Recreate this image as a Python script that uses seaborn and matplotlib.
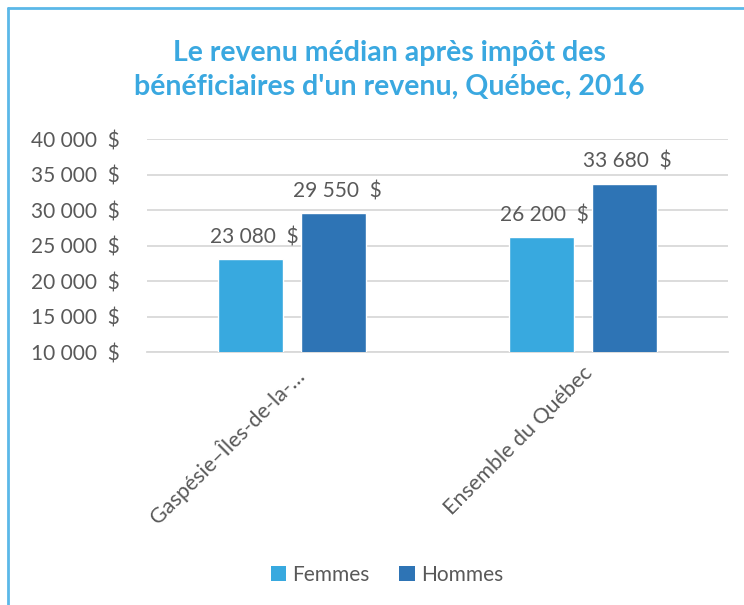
#!/usr/bin/env python3
"""Median after-tax income bar chart, Québec 2016."""

import matplotlib
matplotlib.use("Agg")
import matplotlib.pyplot as plt
from matplotlib.lines import Line2D
from matplotlib.patches import Patch
from matplotlib.ticker import FuncFormatter, MultipleLocator
import pandas as pd
import seaborn as sns

regions = ["Gaspésie–Îles-de-la-…", "Ensemble du Québec"]
sexes = ["Femmes", "Hommes"]
femmes = [23080, 26200]
hommes = [29550, 33680]

COLORS = {"Femmes": "#38A9DF", "Hommes": "#2E74B5"}
TEXT = "#595959"
GRID = "#D9D9D9"
TITLE = "#3AA8E0"

sns.set_style("white")
plt.rcParams["font.family"] = ["Lato", "DejaVu Sans"]


def fmt_money(v, _pos=None):
    return f"{int(round(v)):,}".replace(",", " ") + "  $"


def main() -> None:
    df = pd.DataFrame({
        "region": regions * 2,
        "sexe": ["Femmes"] * len(regions) + ["Hommes"] * len(regions),
        "revenu": femmes + hommes,
    })

    fig = plt.figure(figsize=(7.44, 6.05), dpi=100)
    ax = fig.add_axes([0.198, 0.418, 0.780, 0.352])

    sns.barplot(data=df, x="region", y="revenu", hue="sexe", order=regions,
                hue_order=sexes, palette=COLORS, width=0.572, gap=0.217,
                saturation=1, errorbar=None, ax=ax, legend=False, zorder=3)

    ax.set_ylim(10000, 40000)
    ax.set_xlim(-0.5, 1.5)
    ax.yaxis.set_major_locator(MultipleLocator(5000))
    ax.yaxis.set_major_formatter(FuncFormatter(fmt_money))
    ax.grid(axis="y", color=GRID, linewidth=1.3, zorder=0)
    ax.set_axisbelow(True)
    for side in ["top", "right", "left"]:
        ax.spines[side].set_visible(False)
    ax.spines["bottom"].set_color(GRID)
    ax.spines["bottom"].set_linewidth(1.3)
    ax.tick_params(axis="both", length=0, labelsize=15, labelcolor=TEXT)
    ax.tick_params(axis="y", pad=20)
    ax.set_xlabel("")
    ax.set_ylabel("")

    for lbl in ax.get_xticklabels():
        lbl.set_rotation(45)
        lbl.set_ha("right")
        lbl.set_rotation_mode("anchor")
        lbl.set_fontsize(15.5)
    ax.tick_params(axis="x", pad=8)

    for cont in ax.containers:
        for bar in cont:
            h = bar.get_height()
            ax.text(bar.get_x() + bar.get_width() / 2 + 0.012, h + 1700,
                    fmt_money(h), ha="center", va="bottom",
                    fontsize=15, color=TEXT)

    fig.text(0.523, 0.884, "Le revenu médian après impôt des\nbénéficiaires d'un revenu, Québec, 2016",
             ha="center", va="center", fontsize=20.5, fontweight="bold",
             color=TITLE, linespacing=1.38)

    handles = [Patch(facecolor=COLORS[s], edgecolor="none") for s in sexes]
    fig.legend(handles, sexes, loc="center", bbox_to_anchor=(0.52, 0.05),
               ncol=2, frameon=False, fontsize=15, labelcolor=TEXT,
               handlelength=0.75, handleheight=0.75, handletextpad=0.3,
               columnspacing=1.4)

    # chart area frame (top and left edges visible)
    fig.add_artist(Line2D([0.011, 1.0], [0.987, 0.987], color="#5BB8E8", linewidth=2))
    fig.add_artist(Line2D([0.011, 0.011], [0.0, 0.987], color="#5BB8E8", linewidth=2))

    fig.savefig("out.png", dpi=100)
    plt.close(fig)


if __name__ == "__main__":
    main()
